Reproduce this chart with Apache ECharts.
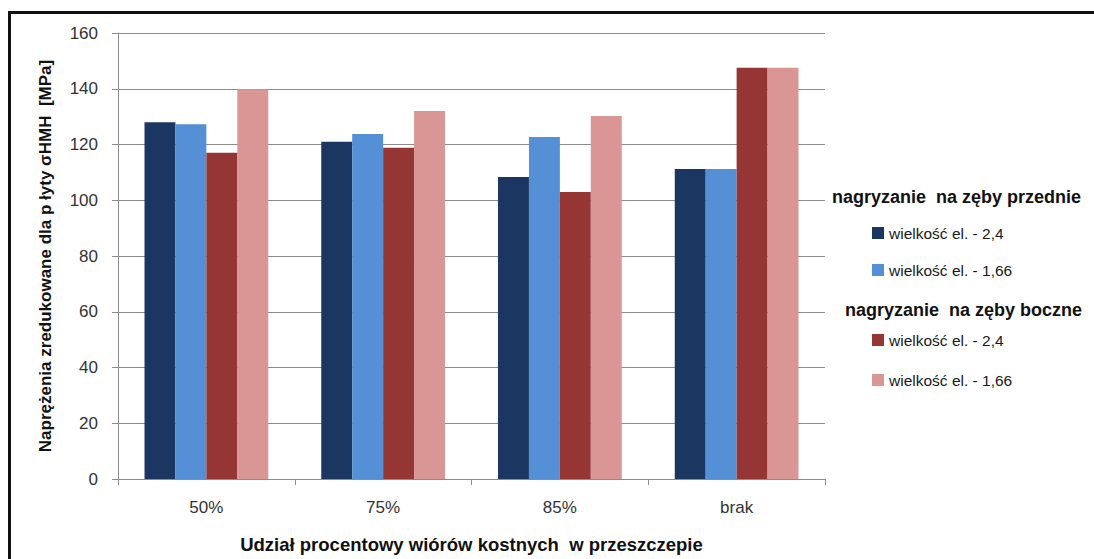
<!DOCTYPE html>
<html>
<head>
<meta charset="utf-8">
<script src="https://cdn.jsdelivr.net/npm/echarts@6/dist/echarts.min.js"></script>
<style>
  html, body { margin: 0; padding: 0; background: #fff; }
  #frame { position: absolute; left: 8px; top: 11px; width: 1200px; height: 700px;
           border-top: 3px solid #111; border-left: 3px solid #111; }
  #chart { position: absolute; left: 0; top: 0; width: 1094px; height: 559px; }
</style>
</head>
<body>
<div id="frame"></div>
<div id="chart"></div>
<script>
// Udział wiórów kostnych w przeszczepie
const categories = ['50%', '75%', '85%', 'brak'];

// nagryzanie na zęby przednie
const przednie24  = [128, 121, 108.3, 111.2];
const przednie166 = [127.3, 123.8, 122.7, 111.2];
// nagryzanie na zęby boczne
const boczne24  = [117, 118.8, 103, 147.5];
const boczne166 = [139.8, 132, 130.2, 147.5];

const seriesNames = ['wielkość el. - 2,4', 'wielkość el. - 1,66', 'wielkość el. - 2,4 ', 'wielkość el. - 1,66 '];
const groupTitles = ['nagryzanie  na zęby przednie', 'nagryzanie  na zęby boczne'];
const yTicks = { min: 0, max: 160, step: 20 };

const FONT = "'Liberation Sans Narrow', 'Liberation Sans', sans-serif";
const colors = ['#1b3660', '#5590d6', '#963634', '#d99694'];

const chart = echarts.init(document.getElementById('chart'), null, { renderer: 'svg' });

const legendText = { fontFamily: FONT, fontSize: 15.5, color: '#1a1a1a' };

chart.setOption({
  backgroundColor: 'transparent',
  animation: false,
  color: colors,
  grid: { left: 118, right: 269, top: 33, bottom: 76 },
  xAxis: {
    type: 'category',
    data: categories,
    name: 'Udział procentowy wiórów kostnych  w przeszczepie',
    nameLocation: 'middle',
    nameGap: 56,
    nameTextStyle: { fontFamily: FONT, fontSize: 18.5, fontWeight: 'bold', color: '#111' },
    axisLine: { lineStyle: { color: '#8c8c8c', width: 1 } },
    axisTick: { show: true, length: 6, lineStyle: { color: '#8c8c8c' } },
    axisLabel: { fontFamily: FONT, fontSize: 17, color: '#333', margin: 20 }
  },
  yAxis: {
    type: 'value',
    min: yTicks.min,
    max: yTicks.max,
    interval: yTicks.step,
    name: 'Naprężenia zredukowane dla p łyty σHMH  [MPa]',
    nameLocation: 'middle',
    nameGap: 64,
    nameTextStyle: { fontFamily: FONT, fontSize: 17, fontWeight: 'bold', color: '#111' },
    axisLine: { show: true, lineStyle: { color: '#8c8c8c', width: 1 } },
    axisTick: { show: true, length: 6, inside: false, lineStyle: { color: '#8c8c8c' } },
    axisLabel: { fontFamily: FONT, fontSize: 17, color: '#333', margin: 20 },
    splitLine: { lineStyle: { color: '#8c8c8c', width: 1 } }
  },
  legend: [
    {
      data: [seriesNames[0], seriesNames[1]],
      orient: 'vertical', left: 867, top: 220,
      itemWidth: 12, itemHeight: 12, itemGap: 21,
      icon: 'rect', textStyle: legendText
    },
    {
      data: [seriesNames[2], seriesNames[3]],
      orient: 'vertical', left: 867, top: 327,
      itemWidth: 12, itemHeight: 12, itemGap: 24,
      icon: 'rect', textStyle: legendText
    }
  ],
  graphic: [
    { type: 'text', left: 832, top: 188,
      style: { text: groupTitles[0], font: "bold 18px " + FONT, fill: '#111' } },
    { type: 'text', left: 845, top: 301,
      style: { text: groupTitles[1], font: "bold 18px " + FONT, fill: '#111' } }
  ],
  series: [
    { name: seriesNames[0], type: 'bar', data: przednie24, barGap: '0%', barCategoryGap: '30%' },
    { name: seriesNames[1], type: 'bar', data: przednie166, barGap: '0%', barCategoryGap: '30%' },
    { name: seriesNames[2], type: 'bar', data: boczne24, barGap: '0%', barCategoryGap: '30%' },
    { name: seriesNames[3], type: 'bar', data: boczne166, barGap: '0%', barCategoryGap: '30%' }
  ]
});
</script>
</body>
</html>
